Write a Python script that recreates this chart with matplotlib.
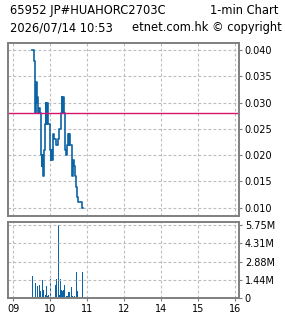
import matplotlib
matplotlib.use("Agg")
import matplotlib.pyplot as plt
import numpy as np

# minutes after 09:00 (lunch hour removed from the axis)
minutes = list(range(30, 114))

price = [
    0.040, 0.040, 0.040, 0.038, 0.038, 0.038, 0.028, 0.034, 0.030, 0.031,
    0.029, 0.028, 0.029, 0.028, 0.028, 0.020, 0.018, 0.020, 0.018, 0.016,
    0.021, 0.024, 0.026, 0.030, 0.026, 0.030, 0.026, 0.026, 0.026, 0.022,
    0.021, 0.019, 0.021, 0.019, 0.024, 0.024, 0.024, 0.023, 0.023, 0.023,
    0.022, 0.022, 0.023, 0.023, 0.024, 0.025, 0.025, 0.026, 0.028, 0.031,
    0.028, 0.031, 0.028, 0.028, 0.021, 0.021, 0.020, 0.020, 0.022, 0.024,
    0.022, 0.024, 0.022, 0.022, 0.022, 0.019, 0.016, 0.019, 0.018, 0.018,
    0.017, 0.016, 0.014, 0.013, 0.012, 0.011, 0.011, 0.011, 0.011, 0.011,
    0.011, 0.011, 0.010, 0.010,
]

volume_m = [
    0.05, 0.08, 1.75, 0.12, 0.10, 0.00, 0.00, 1.20, 0.00, 0.94,
    0.44, 0.08, 0.00, 1.08, 0.00, 0.61, 0.00, 1.41, 0.00, 0.66,
    0.17, 0.00, 0.25, 0.00, 0.94, 0.17, 0.00, 0.25, 0.00, 0.00,
    1.08, 1.55, 0.00, 0.05, 0.00, 0.10, 0.00, 0.00, 1.08, 0.00,
    0.66, 1.55, 0.05, 5.75, 0.00, 0.25, 1.50, 0.39, 0.53, 0.66,
    0.58, 0.00, 0.66, 0.00, 1.08, 0.00, 0.17, 0.00, 0.17, 0.53,
    0.00, 0.53, 0.00, 0.00, 0.86, 0.25, 0.00, 0.17, 0.00, 0.17,
    0.00, 0.00, 2.05, 0.00, 0.53, 0.61, 0.00, 0.00, 0.00, 0.00,
    0.00, 0.00, 2.05, 0.00,
]

prev_close = 0.028
hour_pos = [0, 60, 120, 180, 240, 300, 360]
hour_labels = ["09", "10", "11", "12", "14", "15", "16"]
price_ticks = [0.010, 0.015, 0.020, 0.025, 0.030, 0.035, 0.040]
vol_ticks = [0, 1.4375e6, 2.875e6, 4.3125e6, 5.75e6]
vol_labels = ["0", "1.44M", "2.88M", "4.31M", "5.75M"]

blue = "#0b64a6"
spine_col = "#7f7f7f"
grid_col = "#bcbcbc"

fig = plt.figure(figsize=(2.85, 3.18), dpi=100)
fig.patch.set_facecolor("white")

ax = fig.add_axes([0.029, 0.3208, 0.8107, 0.5449])
axv = fig.add_axes([0.029, 0.0619, 0.8107, 0.2409])

for a in (ax, axv):
    for s in a.spines.values():
        s.set_color(spine_col)
        s.set_linewidth(1.4)
    a.set_xlim(-8, 367)
    a.set_xticks(hour_pos)
    a.grid(True, color=grid_col, linestyle=(0, (2.5, 2)), linewidth=0.8)
    a.yaxis.tick_right()
    a.tick_params(axis="both", colors=spine_col, labelcolor="black",
                  labelsize=7, length=2.5, width=0.8, pad=1.5)

# price
ax.step(minutes, price, where="post", color=blue, linewidth=1.2)
ax.axhline(prev_close, color="#d8126f", linewidth=1.0)
ax.set_ylim(0.00842, 0.04139)
ax.set_yticks(price_ticks)
ax.set_yticklabels(["%.3f" % t for t in price_ticks])
ax.tick_params(axis="x", length=0, labelbottom=False)

# volume
axv.bar(minutes, np.array(volume_m) * 1e6, width=1.6, color=blue,
        linewidth=0)
axv.set_ylim(0, 6.01e6)
axv.set_yticks(vol_ticks)
axv.set_yticklabels(vol_labels)
axv.set_xticklabels(hour_labels)

fig.text(0.035, 0.968, "65952 JP#HUAHORC2703C", fontsize=8.3, va="center")
fig.text(0.978, 0.968, "1-min Chart", fontsize=8.3, va="center", ha="right")
fig.text(0.035, 0.912, "2026/07/14 10:53", fontsize=8.3, va="center")
fig.text(0.988, 0.912, "etnet.com.hk \u00a9 copyright", fontsize=8.3,
         va="center", ha="right")

fig.savefig("out.png", dpi=100)
